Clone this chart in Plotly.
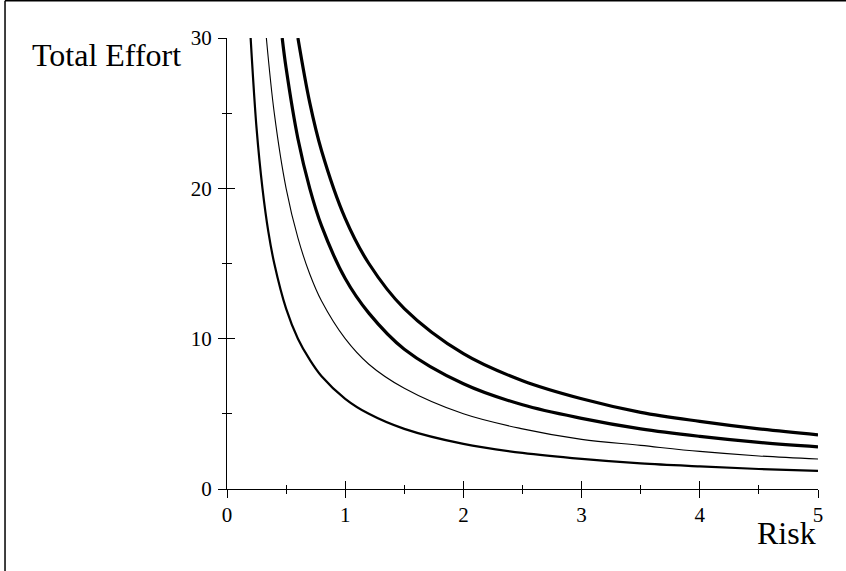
import plotly.graph_objects as go

# Curves (Risk vs Total Effort)
risk_a = [0.2, 0.25, 0.3, 0.35, 0.4, 0.5, 0.6, 0.7, 0.8, 1.0, 1.2, 1.5, 2.0, 2.5, 3.0, 3.5, 4.0, 4.5, 5.0]
effort_a = [30, 24, 20, 17.1, 15, 12, 10, 8.6, 7.5, 6.0, 5.0, 4.0, 3.0, 2.4, 2.0, 1.7, 1.5, 1.33, 1.2]

risk_b = [0.333, 0.4, 0.5, 0.6, 0.7, 0.8, 1.0, 1.2, 1.5, 2.0, 2.5, 3.0, 3.5, 4.0, 4.5, 5.0]
effort_b = [30, 25, 20, 16.7, 14.3, 12.5, 10, 8.3, 6.7, 5.0, 4.0, 3.3, 2.9, 2.5, 2.2, 2.0]

risk_c = [0.467, 0.5, 0.6, 0.7, 0.8, 1.0, 1.2, 1.5, 2.0, 2.5, 3.0, 3.5, 4.0, 4.5, 5.0]
effort_c = [30, 28, 23.3, 20, 17.5, 14, 11.7, 9.3, 7.0, 5.6, 4.7, 4.0, 3.5, 3.1, 2.8]

risk_d = [0.6, 0.7, 0.8, 1.0, 1.2, 1.5, 2.0, 2.5, 3.0, 3.5, 4.0, 4.5, 5.0]
effort_d = [30, 25.7, 22.5, 18, 15, 12, 9.0, 7.2, 6.0, 5.1, 4.5, 4.0, 3.6]

x_ticks = [0, 1, 2, 3, 4, 5]
y_ticks = [0, 10, 20, 30]

SERIF = "Liberation Serif, Times New Roman, serif"

fig = go.Figure()
for xs, ys, w in [(risk_a, effort_a, 2.2), (risk_b, effort_b, 1.1),
                  (risk_c, effort_c, 3.2), (risk_d, effort_d, 3.2)]:
    fig.add_trace(go.Scatter(x=xs, y=ys, mode="lines",
                             line=dict(color="black", width=w, shape="spline", smoothing=1.0),
                             showlegend=False, hoverinfo="skip"))
# dummy trace to activate overlay axes (inside half of crossing ticks)
fig.add_trace(go.Scatter(x=[None], y=[None], xaxis="x2", yaxis="y2", showlegend=False))

common = dict(showgrid=False, zeroline=False, linecolor="black", linewidth=1.3,
              tickcolor="black", tickwidth=1.3)

fig.update_layout(
    width=846, height=571,
    margin=dict(l=227, r=28, t=38, b=82),
    paper_bgcolor="white", plot_bgcolor="white",
    font=dict(family=SERIF, color="black", size=21),
    xaxis=dict(range=[0, 5], tickvals=x_ticks, ticks="outside", ticklen=8,
               showline=True, anchor="y", ticklabelstandoff=-1,
               minor=dict(ticks="outside", ticklen=4, dtick=0.5, tick0=0,
                          tickcolor="black", tickwidth=1.3),
               tickfont=dict(family=SERIF, size=21), **common),
    yaxis=dict(range=[0, 30], tickvals=y_ticks, ticks="outside", ticklen=8,
               showline=True, anchor="x", ticklabelstandoff=2,
               minor=dict(ticks="outside", ticklen=4, dtick=5, tick0=0,
                          tickcolor="black", tickwidth=1.3),
               tickfont=dict(family=SERIF, size=21), **common),
    xaxis2=dict(range=[0, 5], overlaying="x", anchor="y2", tickvals=x_ticks,
                ticks="inside", ticklen=8, showticklabels=False, showline=False,
                minor=dict(ticks="inside", ticklen=4, dtick=0.5, tick0=0,
                           tickcolor="black", tickwidth=1.3),
                showgrid=False, zeroline=False, tickcolor="black", tickwidth=1.3),
    yaxis2=dict(range=[0, 30], overlaying="y", anchor="x2", tickvals=y_ticks,
                ticks="inside", ticklen=8, showticklabels=False, showline=False,
                minor=dict(ticks="inside", ticklen=5, dtick=5, tick0=0,
                           tickcolor="black", tickwidth=1.3),
                showgrid=False, zeroline=False, tickcolor="black", tickwidth=1.3),
    annotations=[
        dict(text="Total Effort", xref="paper", yref="paper", x=-0.0745, y=0.962,
             xanchor="right", yanchor="middle", showarrow=False,
             font=dict(family=SERIF, size=32)),
        dict(text="Risk", xref="paper", yref="paper", x=1.0, y=-0.098,
             xanchor="right", yanchor="middle", showarrow=False,
             font=dict(family=SERIF, size=32)),
    ],
    shapes=[
        dict(type="line", xref="paper", yref="paper", x0=-0.3756, x1=1.06, y0=1.0826, y1=1.0826,
             line=dict(color="black", width=1.5)),
        dict(type="line", xref="paper", yref="paper", x0=-0.3756, x1=-0.3756, y0=1.0826, y1=-0.2,
             line=dict(color="black", width=1.5)),
    ],
)

fig.write_html("out.html", config={"displayModeBar": False},
               post_script="document.body.style.margin='0';")
